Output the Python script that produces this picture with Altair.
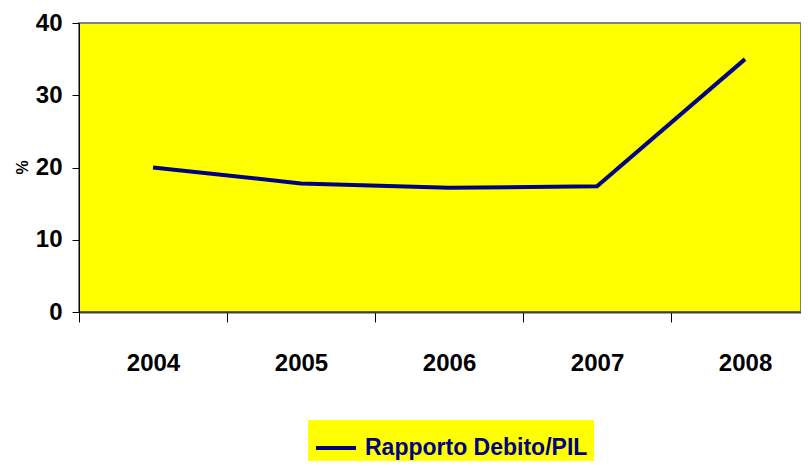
import altair as alt
import pandas as pd

years = [2004, 2005, 2006, 2007, 2008]
ratio = [20.0, 17.8, 17.2, 17.4, 35.0]
series_name = "Rapporto Debito/PIL"
y_ticks = [0, 10, 20, 30, 40]

df = pd.DataFrame({"anno": years, "valore": ratio, "serie": [series_name] * len(years)})

FONT = "Liberation Sans Narrow, Arial Narrow, Liberation Sans, Arial, sans-serif"
NAVY = "#000080"
YELLOW = "#FFFF00"

chart = (
    alt.Chart(df)
    .mark_line(strokeWidth=4, color=NAVY)
    .encode(
        x=alt.X(
            "anno:Q",
            scale=alt.Scale(domain=[2003.5, 2008.378], nice=False, zero=False),
            axis=alt.Axis(
                values=years,
                format="d",
                title=None,
                grid=False,
                tickOffset=-74,
                labelOffset=74,
                tickSize=10,
                tickColor="#000000",
                domainColor="#404040",
                domainWidth=2,
                labelFont=FONT,
                labelFontSize=24,
                labelFontWeight="bold",
                labelColor="#000000",
                labelPadding=29,
                labelFlush=False,
                labelOverlap=False,
            ),
        ),
        y=alt.Y(
            "valore:Q",
            scale=alt.Scale(domain=[0, 40], nice=False),
            axis=alt.Axis(
                values=y_ticks,
                title="%",
                grid=False,
                tickSize=7,
                tickColor="#000000",
                domainColor="#000000",
                labelFont=FONT,
                labelFontSize=24,
                labelFontWeight="bold",
                labelColor="#000000",
                labelPadding=10,
                titleFont=FONT,
                titleFontSize=16,
                titleFontWeight="bold",
                titleColor="#000000",
                titleAngle=270,
                titleX=-57,
                titleY=144,
                titleAlign="center",
                titleBaseline="middle",
            ),
        ),
        color=alt.Color(
            "serie:N",
            scale=alt.Scale(domain=[series_name], range=[NAVY]),
            legend=alt.Legend(
                title=None,
                orient="none",
                legendX=229,
                legendY=397,
                fillColor=YELLOW,
                padding=6,
                symbolType="stroke",
                symbolSize=1600,
                symbolStrokeWidth=4,
                symbolStrokeColor=NAVY,
                labelFont=FONT,
                labelFontSize=23,
                labelFontWeight="bold",
                labelColor=NAVY,
                labelOffset=7,
                labelLimit=400,
            ),
        ),
    )
    .properties(
        width=722,
        height=289,
        autosize="none",
        padding={"left": 71, "top": 15, "right": 0, "bottom": 149},
        background="#FFFFFF",
    )
    .configure_view(fill=YELLOW, stroke="#808080", strokeWidth=2)
)

chart.save("out.html", embed_options={"renderer": "svg", "actions": False})
